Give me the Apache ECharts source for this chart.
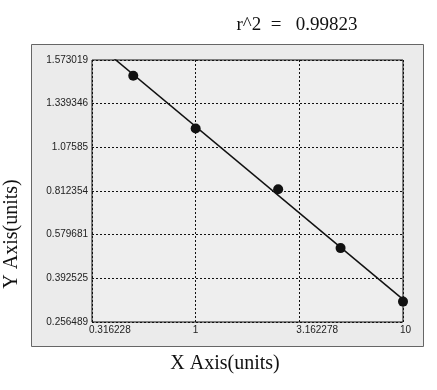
<!DOCTYPE html>
<html><head><meta charset="utf-8">
<script src="https://cdn.jsdelivr.net/npm/echarts@6/dist/echarts.min.js"></script>
<style>html,body{margin:0;padding:0;background:#fff}#c{width:437px;height:390px}</style>
</head><body><div id="c"></div>
<script>
// Data
var xValues = [0.5, 1, 2.5, 5, 10];
var yValues = [1.489, 1.190, 0.823, 0.522, 0.320];
var xTickLabels = ['0.316228', '1', '3.162278', '10'];
var yTickLabels = ['0.256489', '0.392525', '0.579681', '0.812354', '1.07585', '1.339346', '1.573019'];
var titleText = 'r^2  =   0.99823';

var yTickVals = yTickLabels.map(Number);
// piecewise map a y value onto the evenly spaced tick index scale
function yToIdx(v) {
  for (var i = 0; i < yTickVals.length - 1; i++) {
    var a = yTickVals[i], b = yTickVals[i + 1];
    if (v <= b || i === yTickVals.length - 2) return i + (v - a) / (b - a);
  }
}
var pts = xValues.map(function (x, i) { return [x, yToIdx(yValues[i])]; });
// least squares fit in (log x, axis) space
var n = pts.length, sx = 0, sy = 0, sxx = 0, sxy = 0;
pts.forEach(function (p) { var lx = Math.log10(p[0]); sx += lx; sy += p[1]; sxx += lx * lx; sxy += lx * p[1]; });
var slope = (n * sxy - sx * sy) / (n * sxx - sx * sx), icpt = (sy - slope * sx) / n;
var xMin = Number(xTickLabels[0]), xMax = Number(xTickLabels[xTickLabels.length - 1]);
var fitLine = [[xMin, icpt + slope * Math.log10(xMin)], [xMax, icpt + slope * Math.log10(xMax)]];

var chart = echarts.init(document.getElementById('c'));
var lbl = { fontFamily: 'Liberation Sans, Arial, sans-serif', fontSize: 10, color: '#222' };
chart.setOption({
  animation: false,
  graphic: [
    { type: 'rect', z: -10, shape: { x: 31.5, y: 44.5, width: 392, height: 302 }, style: { fill: '#ebebeb', stroke: '#666', lineWidth: 1 } },
    { type: 'text', x: 297, y: 25, style: { text: titleText, x: 0, y: 0, textAlign: 'center', textVerticalAlign: 'middle', font: '19px "Liberation Serif", serif', fill: '#111' } },
    { type: 'text', x: 225, y: 364, style: { text: 'X Axis(units)', x: 0, y: 0, textAlign: 'center', textVerticalAlign: 'middle', font: '20px "Liberation Serif", serif', fill: '#111' } },
    { type: 'text', rotation: Math.PI / 2, x: 12, y: 234, style: { text: 'Y Axis(units)', x: 0, y: 0, textAlign: 'center', textVerticalAlign: 'middle', font: '20px "Liberation Serif", serif', fill: '#111' } }
  ],
  grid: { left: 92, top: 60, width: 311, height: 262, show: true, backgroundColor: '#eeeeee', borderColor: '#111', borderWidth: 1 },
  xAxis: {
    type: 'log', logBase: 10, min: xMin, max: xMax, interval: 0.5,
    axisLine: { show: false }, axisTick: { show: false },
    splitLine: { show: true, lineStyle: { color: '#111', type: [2, 2], width: 1 } },
    axisLabel: Object.assign({}, lbl, { margin: 3, align: 'left', padding: [0, 0, 0, -3], showMinLabel: true, showMaxLabel: true,
      formatter: function (v) {
        for (var i = 0; i < xTickLabels.length; i++) if (Math.abs(Math.log10(v) - Math.log10(Number(xTickLabels[i]))) < 0.01) return xTickLabels[i];
        return '';
      } })
  },
  yAxis: {
    type: 'value', min: 0, max: yTickLabels.length - 1, interval: 1,
    axisLine: { show: false }, axisTick: { show: false },
    splitLine: { show: true, lineStyle: { color: '#111', type: [2, 2], width: 1 } },
    axisLabel: Object.assign({}, lbl, { margin: 4, formatter: function (v) { return yTickLabels[Math.round(v)] || ''; } })
  },
  series: [
    { type: 'line', data: fitLine, symbol: 'none', clip: true, lineStyle: { color: '#111', width: 1.5 } },
    { type: 'scatter', data: pts, symbol: 'circle', symbolSize: 10, itemStyle: { color: '#111', opacity: 1 }, z: 5 }
  ]
});
</script></body></html>
